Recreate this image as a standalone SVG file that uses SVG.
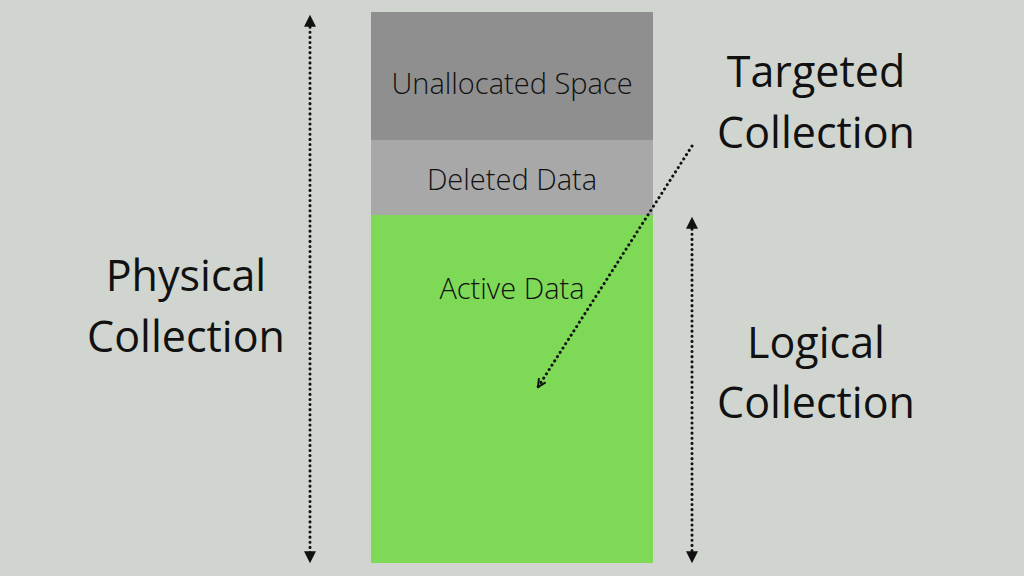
<svg xmlns="http://www.w3.org/2000/svg" width="1024" height="576" viewBox="0 0 1024 576">
<defs>
<style>
.big{font-family:"Open Sans","Liberation Sans",sans-serif;font-size:43px;fill:#111;text-anchor:middle}
.lbl{font-family:"Open Sans","Liberation Sans",sans-serif;font-size:29px;font-weight:300;fill:#111;text-anchor:middle}
.dot{stroke:#111;stroke-width:3;stroke-linecap:round;stroke-dasharray:0.1 5;fill:none}
</style>
<marker id="tri" viewBox="0 0 10 10" refX="4" refY="5" markerWidth="12" markerHeight="13" markerUnits="userSpaceOnUse" orient="auto-start-reverse">
<path d="M0,0 L10,5 L0,10 Z" fill="#111"/>
</marker>
<marker id="chev" viewBox="0 0 10 10" refX="9" refY="5" markerWidth="10" markerHeight="10" markerUnits="userSpaceOnUse" orient="auto">
<path d="M1,1 L9,5 L1,9" fill="none" stroke="#111" stroke-width="2"/>
</marker>
</defs>
<rect width="1024" height="576" fill="#d0d5cf"/>
<g id="unallocated">
<rect x="371" y="12" width="282" height="128" fill="#8f8f8f"/>
<text class="lbl" x="512" y="94">Unallocated Space</text>
</g>
<g id="deleted">
<rect x="371" y="140" width="282" height="75" fill="#a8a8a8"/>
<text class="lbl" x="512" y="190">Deleted Data</text>
</g>
<g id="active">
<rect x="371" y="215" width="282" height="348" fill="#7ed957"/>
<text class="lbl" x="512" y="299">Active Data</text>
</g>
<g id="physical">
<text class="big" x="186" y="291">Physical</text>
<text class="big" x="186" y="352">Collection</text>
</g>
<g id="targeted">
<text class="big" x="816" y="87">Targeted</text>
<text class="big" x="816" y="148">Collection</text>
</g>
<g id="logical">
<text class="big" x="816" y="358">Logical</text>
<text class="big" x="816" y="418">Collection</text>
</g>
<g id="connectors">
<line class="dot" x1="310" y1="22" x2="310" y2="556" marker-start="url(#tri)" marker-end="url(#tri)"/>
<line class="dot" x1="692" y1="224" x2="692" y2="556" marker-start="url(#tri)" marker-end="url(#tri)"/>
<line class="dot" x1="692" y1="146" x2="538" y2="387" marker-end="url(#chev)"/>
</g>
</svg>
